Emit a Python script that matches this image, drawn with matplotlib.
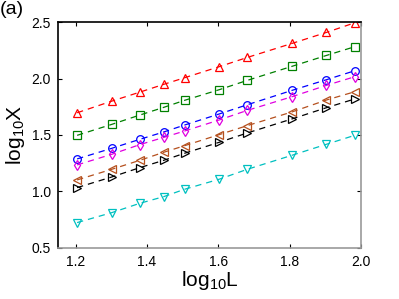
import numpy as np
import matplotlib.pyplot as plt

plt.rcParams["font.family"] = ["Liberation Sans", "DejaVu Sans"]

# log10 L
log_L = [1.204, 1.301, 1.380, 1.447, 1.505, 1.602, 1.681, 1.806, 1.903, 1.982]

# log10 X for each series
red_tri   = [1.697, 1.800, 1.880, 1.949, 2.007, 2.105, 2.187, 2.311, 2.409, 2.494]
green_sq  = [1.497, 1.594, 1.677, 1.745, 1.807, 1.901, 1.984, 2.108, 2.205, 2.282]
blue_o    = [1.288, 1.382, 1.462, 1.527, 1.588, 1.686, 1.768, 1.895, 1.990, 2.069]
mag_d     = [1.235, 1.329, 1.415, 1.479, 1.535, 1.633, 1.718, 1.839, 1.940, 2.016]
brown_lt  = [1.102, 1.196, 1.276, 1.347, 1.405, 1.503, 1.583, 1.704, 1.810, 1.883]
black_rt  = [1.034, 1.128, 1.211, 1.276, 1.338, 1.435, 1.518, 1.642, 1.742, 1.819]
cyan_dt   = [0.724, 0.812, 0.895, 0.954, 1.019, 1.108, 1.196, 1.320, 1.418, 1.497]

series = [
    (red_tri, "#FF0000", "^"),
    (green_sq, "#008000", "s"),
    (blue_o, "#0000FF", "o"),
    (mag_d, "#E000E0", "d"),
    (brown_lt, "#B5501E", "<"),
    (black_rt, "#000000", ">"),
    (cyan_dt, "#00C0C0", "v"),
]

fig = plt.figure(figsize=(3.99, 2.99), dpi=100)
ax = fig.add_axes([0.145, 0.171, 0.760, 0.755])

for vals, col, mk in series:
    ax.plot(log_L, vals, linestyle=(0, (5, 4)), color=col, linewidth=0.9,
            marker=mk, markersize=5.5, markerfacecolor="none",
            markeredgecolor=col, markeredgewidth=0.9)

ax.set_xlim(1.15, 2.0)
ax.set_ylim(0.5, 2.5)
ax.set_xticks([1.2, 1.4, 1.6, 1.8, 2.0])
ax.set_xticklabels(["1.2", "1.4", "1.6", "1.8", "2.0"])
ax.set_yticks([0.5, 1.0, 1.5, 2.0, 2.5])
ax.set_yticklabels(["0.5", "1.0", "1.5", "2.0", "2.5"])
ax.tick_params(direction="in", length=3, width=0.8, top=True, right=True,
               labelsize=10, pad=5)

ax.spines["left"].set_color("black")
ax.spines["top"].set_color("black")
ax.spines["right"].set_color("#999999")
ax.spines["bottom"].set_color("#999999")
for s in ax.spines.values():
    s.set_linewidth(1.2)

ax.set_xlabel(r"$\mathregular{log_{10}L}$", fontsize=15, labelpad=0)
ax.set_ylabel(r"$\mathregular{log_{10}X}$", fontsize=15, labelpad=3)

fig.text(0.0, 0.995, "(a)", fontsize=14, ha="left", va="top")

fig.savefig("out.png", dpi=100)
